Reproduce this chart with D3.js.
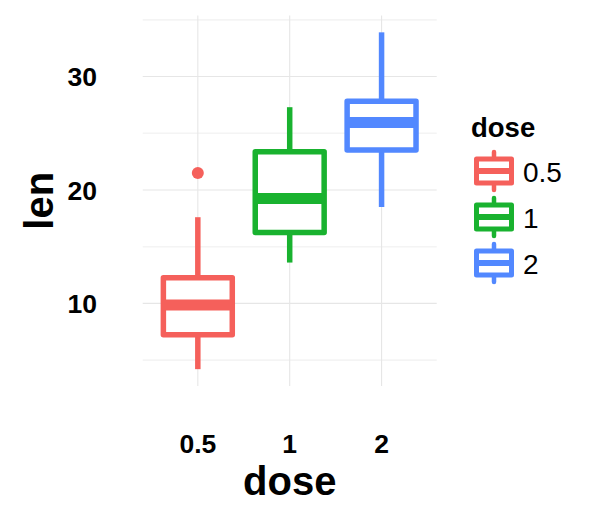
<!DOCTYPE html>
<html lang="en">

<head>
    <meta charset="UTF-8">
    <title>len by dose</title>
    <script src="https://d3js.org/d3.v7.min.js"></script>
    <style>
        body { margin: 0; background: #fff; }
        text { font-family: "Liberation Sans", Arial, Helvetica, sans-serif; }
    </style>
</head>

<body>
    <svg width="614" height="518"></svg>
    <script>
        // ToothGrowth: len by dose, box plot summaries
        let doses = ["0.5", "1", "2"]
        let lowerWhisker = [4.2, 13.6, 18.5]
        let q1 = [7.225, 16.25, 23.525]
        let median = [9.85, 19.25, 25.95]
        let q3 = [12.25, 23.375, 27.825]
        let upperWhisker = [17.6, 27.3, 33.9]
        let outliers = [{ dose: "0.5", len: 21.5 }]
        let yTicks = [10, 20, 30]
        let yMinor = [5, 15, 25, 35]
        let colors = ["#F5605B", "#19B22F", "#5288FF"]

        let svg = d3.select("svg")
        let panel = { left: 142.7, right: 436.7, top: 15.5, bottom: 386 }

        let lo = d3.min(lowerWhisker), hi = d3.max(upperWhisker)
        let pad = (hi - lo) * 0.05
        let y = d3.scaleLinear().domain([lo - pad, hi + pad]).range([panel.bottom, panel.top])
        let x = d3.scalePoint().domain(doses).range([panel.left, panel.right]).padding(0.6)
        let color = d3.scaleOrdinal().domain(doses).range(colors)
        let boxW = x.step() * 0.75

        let boxes = doses.map(function (d, i) {
            return { dose: d, lw: lowerWhisker[i], q1: q1[i], med: median[i], q3: q3[i], uw: upperWhisker[i] }
        })

        // grid
        let grid = svg.append("g")
        grid.selectAll(".minor").data(yMinor).enter().append("line")
            .attr("x1", panel.left).attr("x2", panel.right)
            .attr("y1", d => y(d)).attr("y2", d => y(d))
            .attr("stroke", "#f4f4f4").attr("stroke-width", 1.6)
        grid.selectAll(".major").data(yTicks).enter().append("line")
            .attr("x1", panel.left).attr("x2", panel.right)
            .attr("y1", d => y(d)).attr("y2", d => y(d))
            .attr("stroke", "#e6e6e6").attr("stroke-width", 1.1)
        grid.selectAll(".vmajor").data(doses).enter().append("line")
            .attr("x1", d => x(d)).attr("x2", d => x(d))
            .attr("y1", panel.top).attr("y2", panel.bottom)
            .attr("stroke", "#e6e6e6").attr("stroke-width", 1.1)

        // boxes
        let g = svg.append("g").selectAll("g").data(boxes).enter().append("g")
        g.append("line")
            .attr("x1", d => x(d.dose)).attr("x2", d => x(d.dose))
            .attr("y1", d => y(d.uw)).attr("y2", d => y(d.q3))
            .attr("stroke", d => color(d.dose)).attr("stroke-width", 5.5)
        g.append("line")
            .attr("x1", d => x(d.dose)).attr("x2", d => x(d.dose))
            .attr("y1", d => y(d.q1)).attr("y2", d => y(d.lw))
            .attr("stroke", d => color(d.dose)).attr("stroke-width", 5.5)
        g.append("rect")
            .attr("x", d => x(d.dose) - boxW / 2).attr("width", boxW)
            .attr("y", d => y(d.q3)).attr("height", d => y(d.q1) - y(d.q3))
            .attr("fill", "#fff").attr("stroke", d => color(d.dose))
            .attr("stroke-width", 5.5).attr("stroke-linejoin", "round")
        g.append("line")
            .attr("x1", d => x(d.dose) - boxW / 2).attr("x2", d => x(d.dose) + boxW / 2)
            .attr("y1", d => y(d.med)).attr("y2", d => y(d.med))
            .attr("stroke", d => color(d.dose)).attr("stroke-width", 11)

        svg.append("g").selectAll("circle").data(outliers).enter().append("circle")
            .attr("cx", d => x(d.dose)).attr("cy", d => y(d.len)).attr("r", 6)
            .attr("fill", d => color(d.dose))

        // axes text
        svg.append("g").selectAll("text").data(yTicks).enter().append("text")
            .attr("x", 97).attr("y", d => y(d)).attr("dy", "0.36em")
            .attr("text-anchor", "end").attr("font-weight", "bold").attr("font-size", 26.5)
            .text(d => d)
        svg.append("g").selectAll("text").data(doses).enter().append("text")
            .attr("x", d => x(d)).attr("y", 453)
            .attr("text-anchor", "middle").attr("font-weight", "bold").attr("font-size", 26.5)
            .text(d => d)
        svg.append("text")
            .attr("x", (panel.left + panel.right) / 2).attr("y", 495)
            .attr("text-anchor", "middle").attr("font-weight", "bold").attr("font-size", 40)
            .text("dose")
        svg.append("text")
            .attr("transform", `translate(52.5,${(panel.top + panel.bottom) / 2}) rotate(-90)`)
            .attr("text-anchor", "middle").attr("font-weight", "bold").attr("font-size", 40)
            .text("len")

        // legend
        let legend = svg.append("g")
        legend.append("text")
            .attr("x", 471).attr("y", 136.5)
            .attr("font-weight", "bold").attr("font-size", 27.5)
            .text("dose")
        let keys = legend.selectAll(".key").data(doses).enter().append("g")
            .attr("transform", (d, i) => `translate(494,${171 + i * 46})`)
        keys.append("line")
            .attr("x1", 0).attr("x2", 0).attr("y1", -19).attr("y2", 19)
            .attr("stroke", d => color(d)).attr("stroke-width", 4.5).attr("stroke-linecap", "round")
        keys.append("rect")
            .attr("x", -17.5).attr("y", -12).attr("width", 35).attr("height", 24)
            .attr("fill", "#fff").attr("stroke", d => color(d)).attr("stroke-width", 5)
            .attr("stroke-linejoin", "round")
        keys.append("line")
            .attr("x1", -17.5).attr("x2", 17.5).attr("y1", 0).attr("y2", 0)
            .attr("stroke", d => color(d)).attr("stroke-width", 6)
        keys.append("text")
            .attr("x", 29).attr("y", 10.5)
            .attr("font-size", 28)
            .text(d => d)
    </script>
</body>

</html>
